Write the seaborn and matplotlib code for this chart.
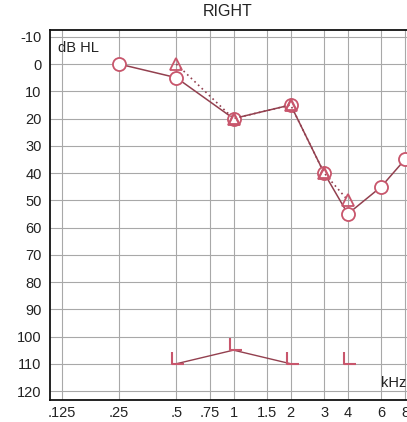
import matplotlib
matplotlib.use("Agg")
import matplotlib.pyplot as plt
from matplotlib.path import Path
import seaborn as sns

# right ear audiogram
freq_ticks = [0.125, 0.25, 0.5, 0.75, 1, 1.5, 2, 3, 4, 6, 8]
freq_labels = [".125", ".25", ".5", ".75", "1", "1.5", "2", "3", "4", "6", "8"]
db_ticks = list(range(-10, 121, 10))

air_freq = [0.25, 0.5, 1, 2, 3, 4, 6, 8]
air_db = [0, 5, 20, 15, 40, 55, 45, 35]

tri_freq = [0.5, 1, 2, 3, 4]
tri_db = [0, 20, 15, 40, 50]

bone_freq = [0.5, 1, 2]
bone_db = [110, 105, 110]
bone_single_freq = [4]
bone_single_db = [110]

sns.set_theme(style="white")
plt.rcParams["font.family"] = ["Liberation Sans", "DejaVu Sans"]
plt.rcParams["axes.unicode_minus"] = False

mark_col = "#c8566c"
line_col = "#93404f"

# L shaped marker: short vertical stroke, foot to the right
l_marker = Path([(-0.33, 1.0), (-0.33, 0.0), (0.67, 0.0)],
                [Path.MOVETO, Path.LINETO, Path.LINETO])

fig = plt.figure(figsize=(4.07, 4.22), dpi=100)
ax = fig.add_axes([50 / 407, 22 / 422, 367 / 407, 370 / 422])
ax.set_xscale("log", base=2)

sns.lineplot(x=tri_freq, y=tri_db, ax=ax, estimator=None, sort=False,
             color=line_col, linestyle=(0, (1, 2)), linewidth=1.2,
             marker="^", markersize=8.5, markerfacecolor="none",
             markeredgecolor=mark_col, markeredgewidth=1.3, zorder=4)
sns.lineplot(x=air_freq, y=air_db, ax=ax, estimator=None, sort=False,
             color=line_col, linewidth=1.1,
             marker="o", markersize=9.4, markerfacecolor="white",
             markeredgecolor=mark_col, markeredgewidth=1.3, zorder=3)
sns.lineplot(x=tri_freq[1:4], y=tri_db[1:4], ax=ax, estimator=None, sort=False,
             color=mark_col, linestyle="none",
             marker="^", markersize=7, markerfacecolor="none",
             markeredgecolor=mark_col, markeredgewidth=1.3, zorder=5)
sns.lineplot(x=bone_freq, y=bone_db, ax=ax, estimator=None, sort=False,
             color=line_col, linewidth=1.0,
             marker=l_marker, markersize=17, markerfacecolor="none",
             markeredgecolor=mark_col, markeredgewidth=1.5, zorder=3)
sns.lineplot(x=bone_single_freq, y=bone_single_db, ax=ax, estimator=None,
             color=mark_col, linestyle="none",
             marker=l_marker, markersize=17, markerfacecolor="none",
             markeredgecolor=mark_col, markeredgewidth=1.5, zorder=3)

ax.set_xlim(0.1081, 9.25)
ax.set_ylim(123.3, -12.5)
ax.set_xticks(freq_ticks)
ax.set_xticklabels(freq_labels)
ax.minorticks_off()
ax.set_yticks(db_ticks)
ax.set_yticklabels([str(v) for v in db_ticks])
ax.tick_params(axis="x", length=0, pad=4, labelsize=10.5, colors="#222222")
ax.tick_params(axis="y", length=0, pad=6, labelsize=10.5, colors="#222222")
ax.grid(True, color="#a8a8a8", linewidth=0.8)
ax.set_xlabel("")
ax.set_ylabel("")
for s in ax.spines.values():
    s.set_color("#111111")
    s.set_linewidth(1.3)

ax.text(0.022, 0.9405, "dB HL", transform=ax.transAxes, fontsize=10.5,
        va="baseline", ha="left", color="#222222")
ax.text(0.902, 0.035, "kHz", transform=ax.transAxes, fontsize=10.5,
        va="baseline", ha="left", color="#222222")
fig.text(228 / 407, 1 - 16 / 422, "RIGHT", ha="center", va="baseline",
         fontsize=11.5, color="#222222")

fig.savefig("out.png", dpi=100, facecolor="white")
